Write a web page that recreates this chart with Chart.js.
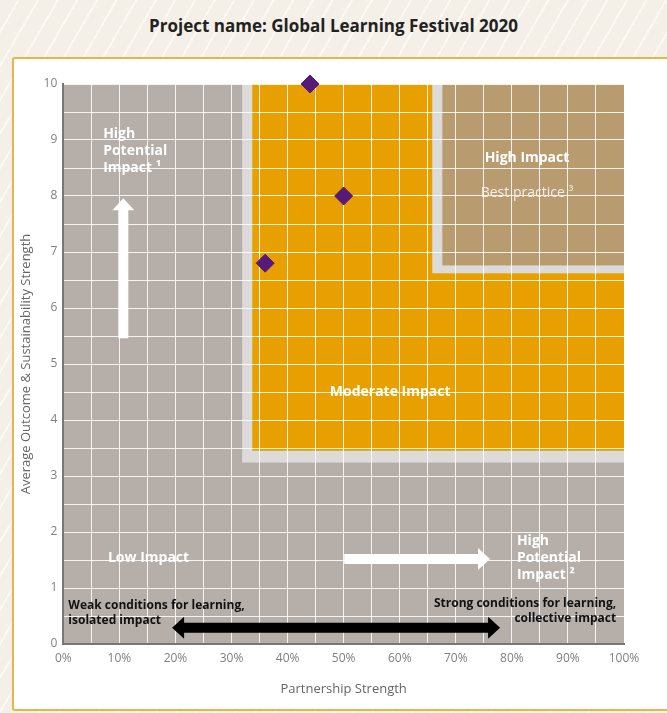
<!DOCTYPE html>
<html>
<head>
<meta charset="utf-8">
<script src="https://cdn.jsdelivr.net/npm/chart.js@4"></script>
<style>
  html, body { margin: 0; padding: 0; }
  body {
    width: 667px; height: 713px; overflow: hidden; position: relative;
    font-family: "Open Sans", Lato, sans-serif;
    background: repeating-linear-gradient(120deg, #f4f0e8 0 15px, #fbf9f5 15px 17px);
  }
  h1 {
    position: absolute; left: 0; top: 14px; width: 667px; margin: 0;
    text-align: center; font-size: 17px; font-weight: bold; color: #222;
  }
  .box {
    position: absolute; left: 12px; top: 57px; width: 680px; height: 650px;
    border: 2px solid #e8b54b; background: #fff; border-radius: 3px;
  }
  .box canvas { position: absolute; left: 0; top: 0; }
</style>
</head>
<body>
<h1>Project name: Global Learning Festival 2020</h1>
<div class="box"><canvas id="chart" width="642" height="650"></canvas></div>
<script>
// projects scored in the matrix
const partnership = [44, 50, 36];
const outcome = [10, 8, 6.8];

// zones of the matrix: [xMin, xMax, yMin, yMax]
const zoneBounds = [
  [31.9, 100, 3.24, 10],   // light band around moderate
  [33.7, 100, 3.45, 10],   // moderate impact
  [65.8, 100, 6.62, 10],   // light band around high impact
  [67.6, 100, 6.76, 10],   // high impact
];
const zoneColors = ['#dcdbd9', '#e8a000', '#dcdbd9', '#b89c6f'];

const FONT = '"Open Sans", Lato, sans-serif';

// labels written on the matrix
const notes = [
  { lines: ['High', 'Potential', 'Impact \u00b9'], x: 7.1, y: 9.1, align: 'left', bold: true, color: '#fff', size: 14 },
  { lines: ['High Impact'], x: 82.7, y: 8.68, align: 'center', bold: true, color: '#fff', size: 14 },
  { lines: ['Best practice \u00b3'], x: 82.7, y: 8.05, align: 'center', bold: false, color: '#f2eee8', size: 14 },
  { lines: ['Moderate Impact'], x: 58.3, y: 4.5, align: 'center', bold: true, color: '#fff', size: 14 },
  { lines: ['Low Impact'], x: 15.2, y: 1.54, align: 'center', bold: true, color: '#fff', size: 14 },
  { lines: ['High', 'Potential', 'Impact \u00b2'], x: 80.9, y: 1.84, align: 'left', bold: true, color: '#fff', size: 14 },
  { lines: ['Weak conditions for learning,', 'isolated impact'], x: 0.9, y: 0.69, align: 'left', bold: true, color: '#111', size: 12 },
  { lines: ['Strong conditions for learning,', 'collective impact'], x: 98.6, y: 0.72, align: 'right', bold: true, color: '#111', size: 12 },
];

// arrows: from (x0,y0) to (x1,y1), data units
const arrows = [
  { x0: 10.7, y0: 5.46, x1: 10.7, y1: 7.96, color: '#fff', both: false },
  { x0: 50.1, y0: 1.52, x1: 76.1, y1: 1.52, color: '#fff', both: false },
  { x0: 19.4, y0: 0.29, x1: 77.9, y1: 0.29, color: '#000', both: true },
];

const matrixPlugin = {
  id: 'matrix',
  beforeDraw(chart) {
    const { ctx, chartArea: a, scales: { x, y } } = chart;
    ctx.save();
    ctx.fillStyle = '#b6afa9';
    ctx.fillRect(a.left, a.top, a.right - a.left, a.bottom - a.top);
    zoneBounds.forEach((z, i) => {
      const l = x.getPixelForValue(z[0]), r = x.getPixelForValue(z[1]);
      const b = y.getPixelForValue(z[2]), t = y.getPixelForValue(z[3]);
      ctx.fillStyle = zoneColors[i];
      ctx.fillRect(l, t, r - l, b - t);
    });
    ctx.restore();
  },
  afterDatasetsDraw(chart) {
    const { ctx, scales: { x, y } } = chart;
    ctx.save();
    // arrows
    arrows.forEach(ar => {
      const x0 = x.getPixelForValue(ar.x0), y0 = y.getPixelForValue(ar.y0);
      const x1 = x.getPixelForValue(ar.x1), y1 = y.getPixelForValue(ar.y1);
      const len = Math.hypot(x1 - x0, y1 - y0);
      const ang = Math.atan2(y1 - y0, x1 - x0);
      const w = 5, hw = 11, hl = 12;
      ctx.save();
      ctx.translate(x0, y0);
      ctx.rotate(ang);
      ctx.fillStyle = ar.color;
      ctx.beginPath();
      if (ar.both) {
        ctx.moveTo(0, 0);
        ctx.lineTo(hl, -hw);
        ctx.lineTo(hl, -w);
      } else {
        ctx.moveTo(0, -w);
      }
      ctx.lineTo(len - hl, -w);
      ctx.lineTo(len - hl, -hw);
      ctx.lineTo(len, 0);
      ctx.lineTo(len - hl, hw);
      ctx.lineTo(len - hl, w);
      if (ar.both) {
        ctx.lineTo(hl, w);
        ctx.lineTo(hl, hw);
        ctx.closePath();
      } else {
        ctx.lineTo(0, w);
        ctx.closePath();
      }
      ctx.fill();
      ctx.restore();
    });
    // text
    notes.forEach(n => {
      ctx.font = (n.bold ? 'bold ' : '') + n.size + 'px ' + FONT;
      ctx.fillStyle = n.color;
      ctx.textAlign = n.align;
      ctx.textBaseline = 'middle';
      const px = x.getPixelForValue(n.x);
      let py = y.getPixelForValue(n.y);
      n.lines.forEach(line => {
        ctx.fillText(line, px, py);
        py += n.size + 3;
      });
    });
    ctx.restore();
  }
};

Chart.defaults.font.family = FONT;

new Chart(document.getElementById('chart'), {
  type: 'scatter',
  plugins: [matrixPlugin],
  data: {
    datasets: [{
      data: partnership.map((v, i) => ({ x: v, y: outcome[i] })),
      backgroundColor: '#561a78',
      borderColor: '#561a78',
      pointStyle: 'rectRot',
      pointRadius: 9,
      pointHoverRadius: 9,
      clip: false,
    }]
  },
  options: {
    responsive: false,
    animation: false,
    layout: { padding: { top: 25, right: 32, bottom: 8, left: 0 } },
    plugins: { legend: { display: false }, tooltip: { enabled: false } },
    scales: {
      x: {
        min: 0, max: 100,
        ticks: {
          stepSize: 5, color: '#808080', font: { size: 12 }, padding: 7,
          autoSkip: false, maxRotation: 0,
          callback: v => (v % 10 === 0 ? v + '%' : ''),
        },
        grid: { color: 'rgba(255,255,255,0.85)', drawTicks: false, lineWidth: 1 },
        border: { color: '#777', width: 2 },
        title: { display: true, text: 'Partnership Strength', color: '#666', font: { size: 13 }, padding: { top: 9 } },
      },
      y: {
        min: 0, max: 10,
        ticks: {
          stepSize: 0.5, color: '#808080', font: { size: 12 }, padding: 6,
          autoSkip: false,
          callback: v => (Number.isInteger(v) ? v : ''),
        },
        grid: { color: 'rgba(255,255,255,0.85)', drawTicks: false, lineWidth: 1 },
        border: { color: '#777', width: 2 },
        title: { display: true, text: 'Average Outcome & Sustainability Strength', color: '#666', font: { size: 13 }, padding: { bottom: 4 } },
      }
    }
  }
});
</script>
</body>
</html>
